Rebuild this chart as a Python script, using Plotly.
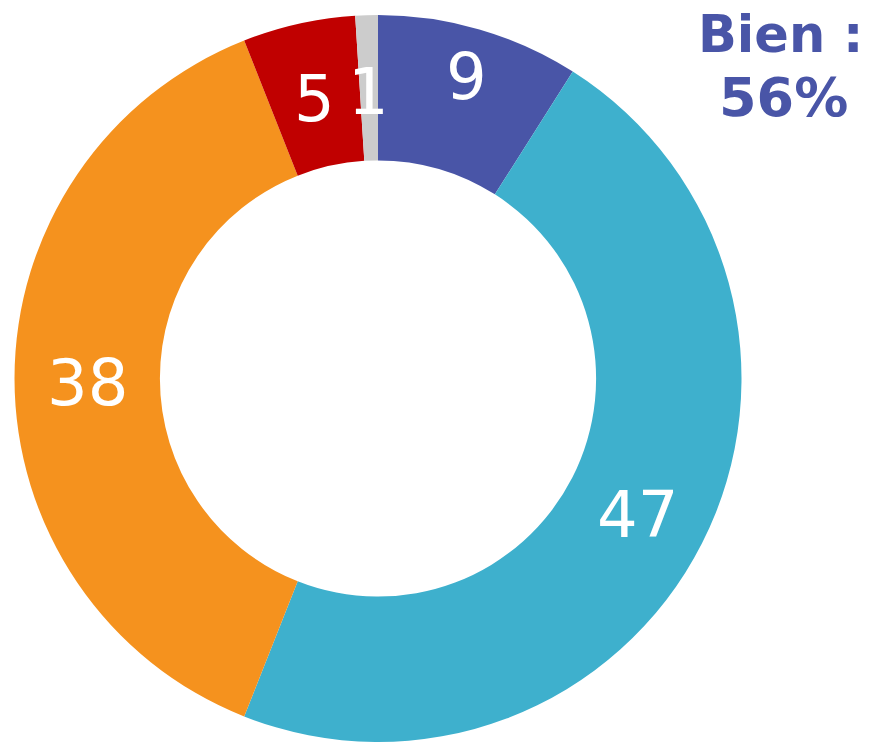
import math
import plotly.graph_objects as go

labels = ["Très bien", "Plutôt bien", "Plutôt mal", "Très mal", "NSP"]
values = [9, 47, 38, 5, 1]
colors = ["#4955A7", "#3EB0CD", "#F5921E", "#C00000", "#CCCCCC"]
summary_label = "Bien :"
summary_value = "56%"

# styling: radial position of each value label as a fraction of the outer radius
label_radius_frac = [0.875, 0.8, 0.8, 0.8, 0.8]

W, H = 864, 734
M_T = 7
PW, PH = W, H - M_T
CX, CY = 370.0, M_T + PH / 2.0
R_OUT = PH / 2.0

fig = go.Figure(go.Pie(
    labels=labels,
    values=values,
    marker=dict(colors=colors, line=dict(width=0)),
    hole=0.6,
    sort=False,
    direction="clockwise",
    rotation=0,
    textinfo="none",
    showlegend=False,
    hoverinfo="label+value",
    domain=dict(x=[(CX - R_OUT) / PW, (CX + R_OUT) / PW], y=[0, 1]),
))

total = sum(values)
cum = 0.0
for v, frac in zip(values, label_radius_frac):
    mid = (cum + v / 2.0) / total * 2 * math.pi
    cum += v
    r = R_OUT * frac
    px = CX + r * math.sin(mid)
    py = CY - r * math.cos(mid)
    fig.add_annotation(
        text=str(v), x=px / PW, y=1 - (py - M_T) / PH,
        xref="paper", yref="paper", xanchor="center", yanchor="middle",
        showarrow=False, yshift=-4,
        font=dict(family="DejaVu Sans", size=64, color="white"),
    )

fig.add_annotation(
    text=f"<b>{summary_label}</b>", x=772 / PW, y=1 - (26 - M_T) / PH,
    xref="paper", yref="paper", xanchor="center", yanchor="middle",
    showarrow=False, font=dict(family="DejaVu Sans", size=51, color="#4955A7"),
)
fig.add_annotation(
    text=f"<b>{summary_value}</b>", x=775 / PW, y=1 - (90 - M_T) / PH,
    xref="paper", yref="paper", xanchor="center", yanchor="middle",
    showarrow=False, font=dict(family="DejaVu Sans", size=54, color="#4955A7"),
)

fig.update_layout(
    width=W, height=H,
    margin=dict(l=0, r=0, t=M_T, b=0),
    paper_bgcolor="white", plot_bgcolor="white",
)

fig.write_html("out.html")
